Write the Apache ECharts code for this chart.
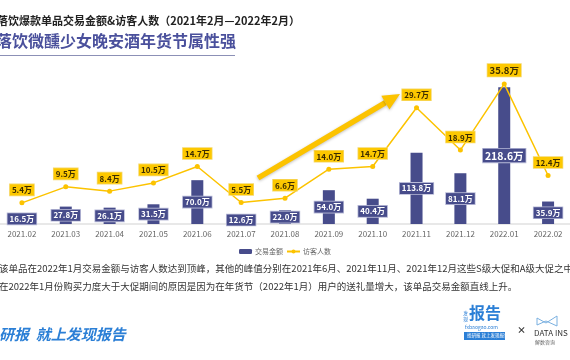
<!DOCTYPE html>
<html><head><meta charset="utf-8">
<script src="https://cdn.jsdelivr.net/npm/echarts@6/dist/echarts.min.js"></script>
<style>html,body{margin:0;padding:0;background:#fff}#c{width:570px;height:360px}</style>
</head><body><div id="c"></div>
<script>
const months = ['2021.02','2021.03','2021.04','2021.05','2021.06','2021.07','2021.08','2021.09','2021.10','2021.11','2021.12','2022.01','2022.02'];
const tradeAmount = [16.5, 27.8, 26.1, 31.5, 70.0, 12.6, 22.0, 54.0, 40.4, 113.8, 81.1, 218.6, 35.9];
const visitors = [5.4, 9.5, 8.4, 10.5, 14.7, 5.5, 6.6, 14.0, 14.7, 29.7, 18.9, 35.8, 12.4];
const seriesNames = ['交易金额', '访客人数'];

const FONT = '"Noto Sans CJK SC", "Noto Sans", sans-serif';
const BAR = '#474c8b';
const YEL = '#fcc300';

const chart = echarts.init(document.getElementById('c'), null, {renderer: 'canvas'});

const barMax = Math.max(...tradeAmount);
const lineMax = Math.max(...visitors);

const barData = tradeAmount.map(v => v === barMax ? {value: v, label: {fontSize: 10.5}} : v);
const lineData = visitors.map(v => v === lineMax ? {value: v, label: {fontSize: 9.5}} : v);

// arrow geometry (decoration)
const ax0 = 258, ay0 = 178, ax1 = 400, ay1 = 94;
const ang = Math.atan2(ay1 - ay0, ax1 - ax0);
const headL = 17, headW = 8;
const bx = ax1 - headL * Math.cos(ang), by = ay1 - headL * Math.sin(ang);
const px = -Math.sin(ang), py = Math.cos(ang);

chart.setOption({
  animation: false,
  textStyle: {fontFamily: FONT},
  grid: {left: -5, right: -5, top: 67.5, bottom: 136, containLabel: false},
  legend: {
    data: seriesNames, top: 243, left: 'center',
    itemWidth: 13, itemHeight: 5, itemGap: 3,
    textStyle: {fontSize: 7, color: '#666', fontFamily: FONT, padding: [0, 0, 0, -2]}
  },
  xAxis: {
    type: 'category', data: months, boundaryGap: true,
    axisLine: {lineStyle: {color: '#e8e8e8', width: 2}},
    axisTick: {show: false},
    axisLabel: {fontSize: 8, color: '#666', margin: 6, fontFamily: FONT}
  },
  yAxis: [
    {type: 'value', min: 0, max: 250, show: false, splitLine: {show: false}},
    {type: 'value', min: 0, max: 40, show: false, splitLine: {show: false}}
  ],
  series: [
    {
      name: seriesNames[0], type: 'bar', data: barData, barWidth: 12,
      itemStyle: {color: BAR},
      label: {
        show: true, position: 'inside', formatter: p => p.value.toFixed(1) + '万',
        color: '#fff', fontWeight: 'bold', fontSize: 8, fontFamily: FONT,
        backgroundColor: BAR, borderColor: '#b9bbd8', borderWidth: 0.8,
        padding: [2, 2, 1, 2]
      },
      z: 2
    },
    {
      name: seriesNames[1], type: 'line', yAxisIndex: 1, data: lineData,
      symbol: 'circle', symbolSize: 5,
      lineStyle: {color: YEL, width: 1.5}, itemStyle: {color: YEL},
      label: {
        show: true, position: 'top', distance: 5, formatter: p => p.value.toFixed(1) + '万',
        color: '#3b2c00', fontWeight: 'bold', fontSize: 8, fontFamily: FONT,
        backgroundColor: '#fdc800', borderColor: '#f5d86a', borderWidth: 0.8,
        padding: [2, 2, 1, 2]
      },
      z: 3
    }
  ],
  graphic: [
    {type: 'text', left: -3, top: 15, style: {text: '落饮爆款单品交易金额&访客人数（2021年2月—2022年2月）', font: 'bold 11px ' + FONT, fill: '#222'}},
    {type: 'text', left: -4, top: 33, style: {text: '落饮微醺少女晚安酒年货节属性强', font: 'bold 16px ' + FONT, fill: '#4a509c'}},
    {type: 'line', shape: {x1: 0, y1: 55.5, x2: 235, y2: 55.5}, style: {stroke: '#8c90b6', lineWidth: 1}},
    {type: 'line', shape: {x1: ax0, y1: ay0, x2: bx, y2: by}, style: {stroke: YEL, lineWidth: 5.5, shadowBlur: 3, shadowColor: 'rgba(0,0,0,0.25)', shadowOffsetY: 1}, z: 10},
    {type: 'polygon', shape: {points: [[ax1, ay1], [bx + px * headW, by + py * headW], [bx - px * headW, by - py * headW]]}, style: {fill: YEL, shadowBlur: 3, shadowColor: 'rgba(0,0,0,0.25)', shadowOffsetY: 1}, z: 10},
    {type: 'text', left: -1, top: 264, style: {text: '该单品在2022年1月交易金额与访客人数达到顶峰，其他的峰值分别在2021年6月、2021年11月、2021年12月这些S级大促和A级大促之中', font: '9.5px ' + FONT, fill: '#333'}},
    {type: 'text', left: -1, top: 282, style: {text: '在2022年1月份购买力度大于大促期间的原因是因为在年货节（2022年1月）用户的送礼量增大，该单品交易金额直线上升。', font: '9.5px ' + FONT, fill: '#333'}},
    {type: 'text', left: -1, top: 327, style: {text: '研报  就上发现报告', font: 'italic bold 15px ' + FONT, fill: '#2b7fd6'}},
    {type: 'text', left: 463, top: 310, style: {text: '发\n现', font: '5px ' + FONT, fill: '#2b7fd6', lineHeight: 6}},
    {type: 'text', left: 469, top: 305, style: {text: '报告', font: 'bold 16px ' + FONT, fill: '#2b7fd6'}},
    {type: 'text', left: 465, top: 325, style: {text: 'fxbaogao.com', font: '5px ' + FONT, fill: '#2b7fd6'}},
    {type: 'rect', shape: {x: 464, y: 332, width: 41, height: 8}, style: {fill: '#2b7fd6'}},
    {type: 'text', left: 467, top: 333, style: {text: '找研报 就上发现报告', font: '4.5px ' + FONT, fill: '#fff'}},
    {type: 'text', left: 517, top: 325, style: {text: '×', font: 'bold 9px ' + FONT, fill: '#333'}},
    {type: 'polyline', shape: {points: [[537, 318], [546, 323], [557, 316], [557, 326], [546, 321], [537, 325], [537, 318]]}, style: {stroke: '#7ab0e0', fill: null, lineWidth: 1}},
    {type: 'text', left: 534, top: 329, style: {text: 'DATA INS', font: '8px ' + FONT, fill: '#333'}},
    {type: 'text', left: 535, top: 340, style: {text: '解数咨询', font: '5px ' + FONT, fill: '#666'}}
  ]
});
</script></body></html>
